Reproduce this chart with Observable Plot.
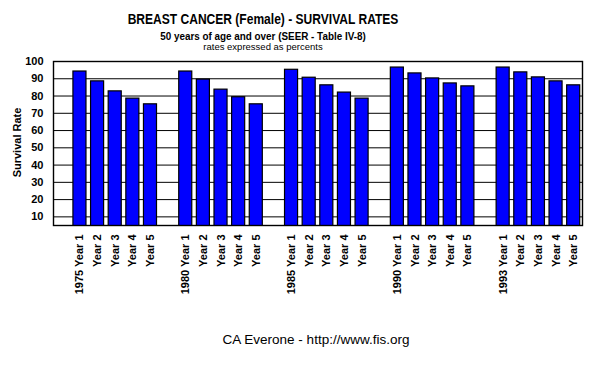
<!DOCTYPE html>
<html>
<head>
<meta charset="utf-8">
<script src="https://cdn.jsdelivr.net/npm/d3@7"></script>
<script src="https://cdn.jsdelivr.net/npm/@observablehq/plot@0.6"></script>
<style>
  body { margin: 0; background: #fff; }
  #wrap { position: relative; width: 602px; height: 368px; overflow: hidden; font-family: "Liberation Sans", Arial, sans-serif; }
  #wrap svg { position: absolute; left: 0; top: 0; }
  .t { position: absolute; text-align: center; color: #000; white-space: nowrap; line-height: 1; }
</style>
</head>
<body>
<div id="wrap">
  <div class="t" style="left:63px;width:400px;top:12px;font-size:14px;font-weight:bold;transform:scaleX(0.86);">BREAST CANCER (Female) - SURVIVAL RATES</div>
  <div class="t" style="left:63px;width:400px;top:31px;font-size:10.5px;font-weight:bold;transform:scaleX(0.94);">50 years of age and over (SEER - Table IV-8)</div>
  <div class="t" style="left:63px;width:400px;top:42px;font-size:9.5px;">rates expressed as percents</div>
  <div class="t" style="left:-33px;width:100px;top:137px;font-size:11px;font-weight:bold;transform:rotate(-90deg);">Survival Rate</div>
  <div class="t" style="left:116px;width:400px;top:333px;font-size:13.5px;">CA Everone - http://www.fis.org</div>
</div>
<script>
const cohorts = ["1975", "1980", "1985", "1990", "1993"];
const yearLabels = ["Year 1", "Year 2", "Year 3", "Year 4", "Year 5"];
const rates1975 = [94.2, 88.5, 82.7, 78.5, 75.2];
const rates1980 = [94.2, 89.5, 83.7, 79.3, 75.2];
const rates1985 = [95.2, 90.6, 86.2, 82.0, 78.5];
const rates1990 = [96.5, 93.1, 90.2, 87.3, 85.6];
const rates1993 = [96.5, 93.7, 90.8, 88.5, 86.2];
const yTicks = [10, 20, 30, 40, 50, 60, 70, 80, 90, 100];

const allRates = [rates1975, rates1980, rates1985, rates1990, rates1993];
const data = [];
const domain = [];
const barKeys = [];
const labelOf = new Map();
cohorts.forEach((c, ci) => {
  domain.push("gap" + ci);
  yearLabels.forEach((yl, yi) => {
    const key = c + "|" + yi;
    domain.push(key);
    barKeys.push(key);
    labelOf.set(key, yi === 0 ? c + " " + yl : yl);
    data.push({key, value: allRates[ci][yi]});
  });
});

const chart = Plot.plot({
  width: 602,
  height: 368,
  marginTop: 61,
  marginBottom: 143,
  marginLeft: 53,
  marginRight: 20,
  style: {fontFamily: "'Liberation Sans', Arial, sans-serif", background: "transparent"},
  x: {type: "band", domain, paddingInner: 0.26, paddingOuter: 0.13, align: 0.5, round: false},
  y: {domain: [5, 100]},
  marks: [
    Plot.gridY(yTicks, {stroke: "#000", strokeOpacity: 1, strokeWidth: 1}),
    Plot.barY(data, {x: "key", y: "value", fill: "#0000ff", stroke: "#000", strokeWidth: 1.2, clip: true}),
    Plot.frame({stroke: "#000", strokeWidth: 1.4}),
    Plot.axisY(yTicks, {tickSize: 0, tickPadding: 10, fontWeight: "bold", fontSize: 11, label: null}),
    Plot.axisX(barKeys, {tickSize: 0, tickPadding: 9, tickRotate: -90, fontWeight: "bold", fontSize: 11, tickFormat: k => labelOf.get(k), label: null})
  ]
});
document.getElementById("wrap").prepend(chart);
</script>
</body>
</html>
